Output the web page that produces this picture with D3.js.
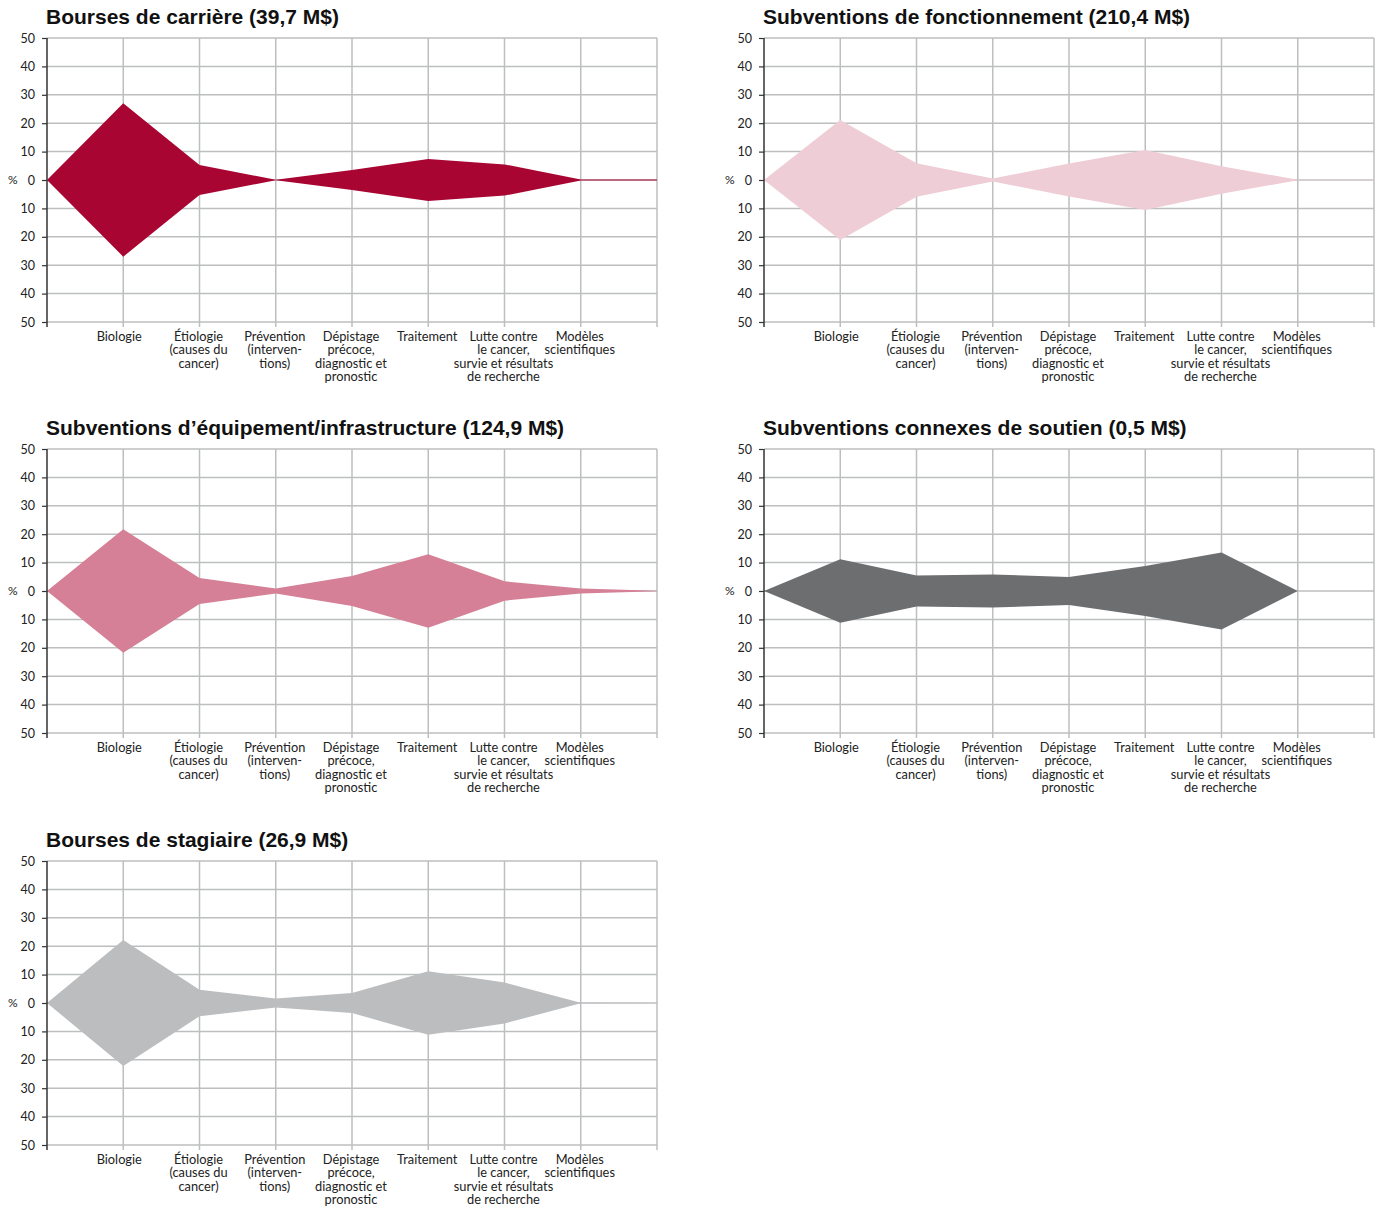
<!DOCTYPE html>
<html><head><meta charset="utf-8">
<script src="https://cdn.jsdelivr.net/npm/d3@7"></script>
<style>
html,body{margin:0;padding:0;background:#fff;}
svg{display:block;}
</style></head>
<body>
<svg id="chart" width="1380" height="1208"></svg>
<script>
// ---- data ----
const categories = [
  ["Biologie"],
  ["Étiologie","(causes du","cancer)"],
  ["Prévention","(interven-","tions)"],
  ["Dépistage","précoce,","diagnostic et","pronostic"],
  ["Traitement"],
  ["Lutte contre","le cancer,","survie et résultats","de recherche"],
  ["Modèles","scientifiques"]
];
const yTickValues = [-50,-40,-30,-20,-10,0,10,20,30,40,50];
const titles = [
  "Bourses de carrière (39,7 M$)",
  "Subventions de fonctionnement (210,4 M$)",
  "Subventions d’équipement/infrastructure (124,9 M$)",
  "Subventions connexes de soutien (0,5 M$)",
  "Bourses de stagiaire (26,9 M$)"
];
const colors = ["#a80533","#eecdd6","#d58096","#6d6e70","#bcbdbf"];
// values in % (half-width shown above and below 0); first/last entries are the axis-edge anchors
const carriere      = [0, 27.0, 5.3, 0.1, 3.5, 7.4, 5.5, 0.2, 0.2];
const fonctionnement= [0, 21.1, 5.9, 0.5, 5.8, 10.6, 4.8, 0.1, 0.1];
const equipement    = [0, 21.7, 4.6, 0.9, 5.3, 12.9, 3.4, 0.9, 0.1];
const connexes      = [0, 11.2, 5.5, 5.8, 4.9, 8.8, 13.6, 0, 0];
const stagiaire     = [0, 22.2, 4.7, 1.6, 3.5, 11.2, 7.2, 0.1, 0];
const seriesList = [carriere, fonctionnement, equipement, connexes, stagiaire];

// ---- layout ----
const svg = d3.select("#chart");
const panelOrigins = [[47,38],[764,38],[47,449],[764,449],[47,861]];
const plotW = 610, plotH = 284;
const gridColor = "#bcbec0";
const tickFont = "Lato, 'Open Sans', sans-serif";

seriesList.forEach((vals, p) => {
  const [ox, oy] = panelOrigins[p];
  const g = svg.append("g").attr("transform", `translate(${ox},${oy})`);
  const x = d3.scaleLinear().domain([0, categories.length + 1]).range([0, plotW]);
  const y = d3.scaleLinear().domain([-50, 50]).range([plotH, 0]);
  const xIdx = d3.range(0, categories.length + 2);

  // title
  g.append("text").attr("x", -1).attr("y", -14)
    .attr("font-family", "'Liberation Sans', Arial, sans-serif")
    .attr("font-weight", "bold").attr("font-size", 21).attr("fill", "#111")
    .text(titles[p]);

  // horizontal grid
  g.append("g").selectAll("line").data(yTickValues).join("line")
    .attr("x1", 0).attr("x2", plotW)
    .attr("y1", d => y(d)).attr("y2", d => y(d))
    .attr("stroke", gridColor).attr("stroke-width", 1.5);
  // vertical grid + bottom ticks
  g.append("g").selectAll("line").data(xIdx.slice(1)).join("line")
    .attr("x1", d => x(d)).attr("x2", d => x(d))
    .attr("y1", 0).attr("y2", plotH + 5)
    .attr("stroke", gridColor).attr("stroke-width", 1.5);

  // area
  const area = d3.area()
    .x((d, i) => x(i))
    .y0(d => y(-d))
    .y1(d => y(d));
  g.append("path").datum(vals).attr("d", area)
    .attr("fill", colors[p]).attr("stroke", "none");

  // left axis
  const yAxis = d3.axisLeft(y).tickValues(yTickValues).tickSize(5).tickPadding(7)
    .tickFormat(d => Math.abs(d));
  const ya = g.append("g").call(yAxis);
  ya.select(".domain").attr("stroke", "#333").attr("stroke-width", 1.5)
    .attr("d", `M0,0V${plotH + 5}`);
  ya.selectAll(".tick line").attr("stroke", "#333").attr("stroke-width", 1.2);
  ya.selectAll(".tick text").attr("font-family", tickFont).attr("font-size", 12.5).attr("fill", "#222");

  g.append("text").attr("x", -39).attr("y", y(0)).attr("dy", "0.32em")
    .attr("font-family", tickFont).attr("font-size", 12).attr("fill", "#222").text("%");

  // category labels
  const lab = g.append("g").selectAll("text").data(categories).join("text")
    .attr("x", (d, i) => x(i + 1) - (i === 0 ? 4 : 1))
    .attr("y", plotH + 19)
    .attr("text-anchor", "middle")
    .attr("font-family", tickFont).attr("font-size", 12.8).attr("fill", "#222");
  lab.each(function(lines) {
    const t = d3.select(this);
    lines.forEach((ln, k) => {
      t.append("tspan").attr("x", t.attr("x")).attr("dy", k === 0 ? 0 : 13.3).text(ln);
    });
  });
});
</script>
</body></html>
